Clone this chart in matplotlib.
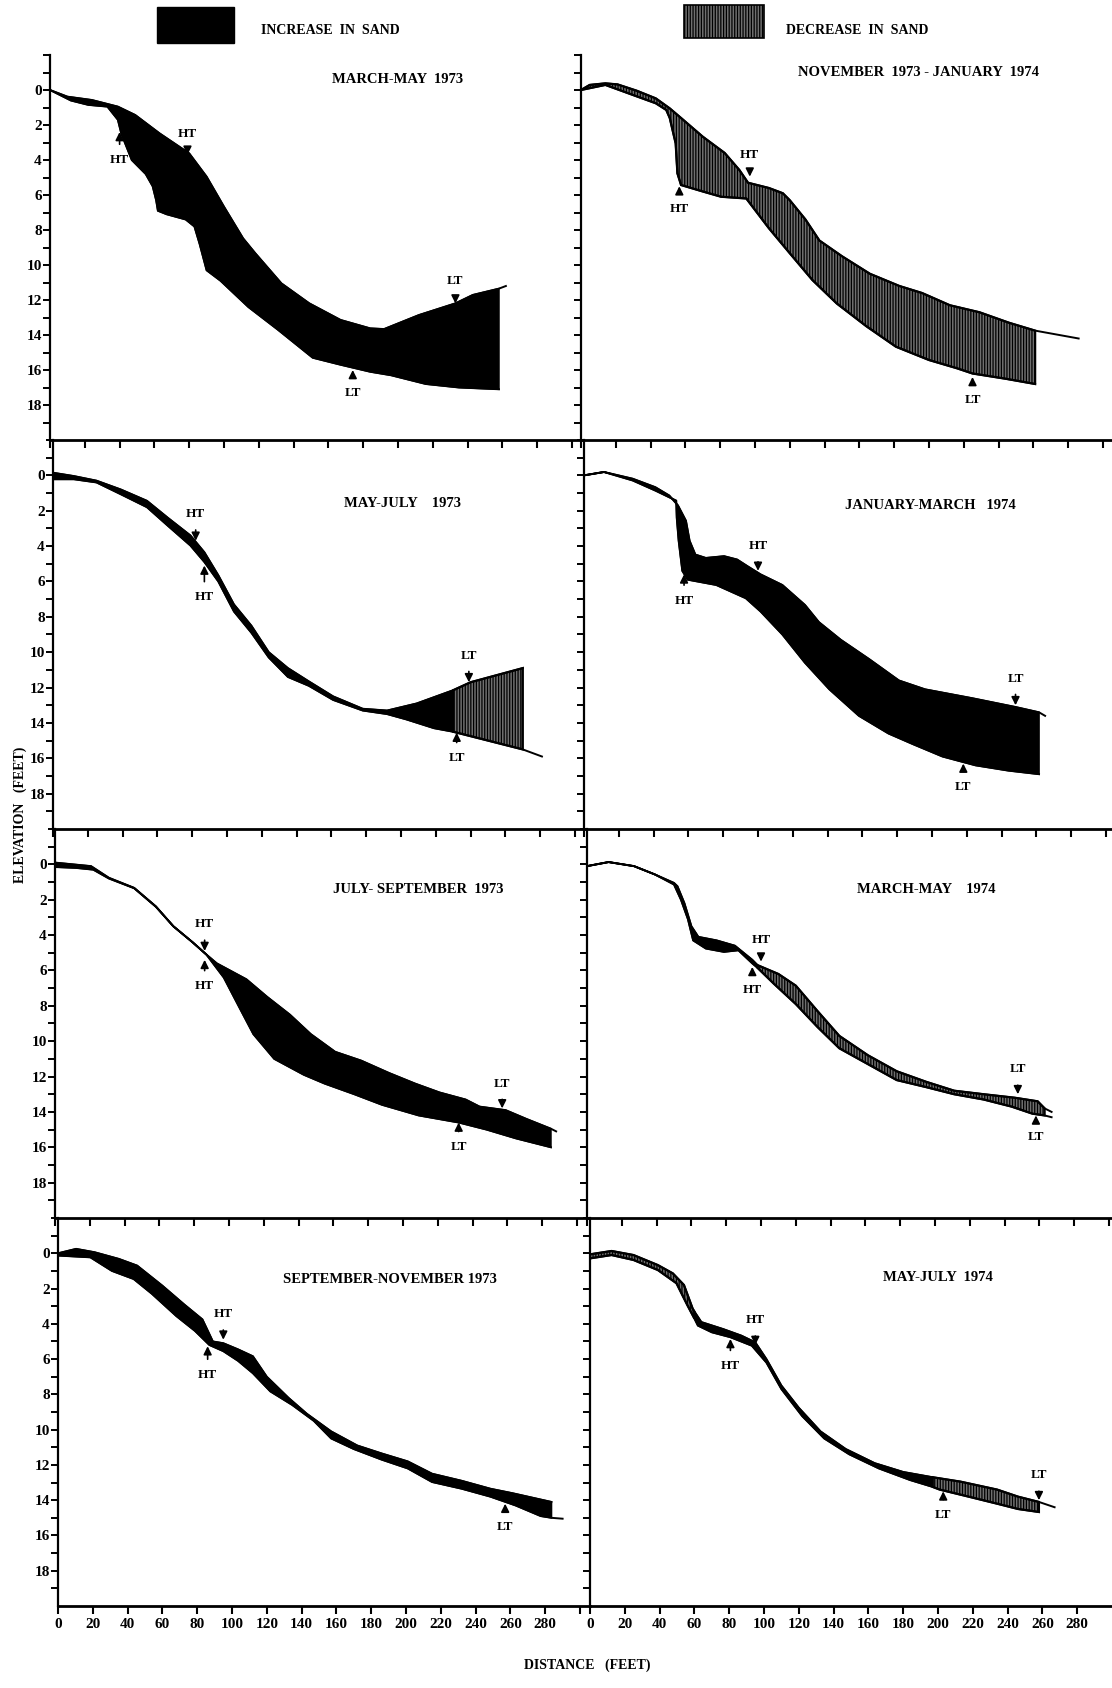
#beach profile changes, 8 panels (two-monthly surveys 1973-1974)
import numpy as np
import matplotlib.pyplot as plt
from matplotlib.patches import Rectangle, Polygon

#=====================Data (distance ft, depth below datum ft)===============
titles = ["MARCH-MAY  1973", "NOVEMBER  1973 - JANUARY  1974",
          "MAY-JULY    1973", "JANUARY-MARCH   1974",
          "JULY- SEPTEMBER  1973", "MARCH-MAY    1974",
          "SEPTEMBER-NOVEMBER 1973", "MAY-JULY  1974"]
title_pos = [(200, -0.6), (194, -1.0), (201, 1.6), (199, 1.7),
             (209, 1.4), (195, 1.4), (191, 1.5), (200, 1.4)]

#panel 1 MARCH-MAY 1973
p1_up_x = [0, 10, 24, 39, 49, 63, 80, 90, 100, 111, 118, 133, 149, 167, 184, 192, 212, 233, 243, 258, 262]
p1_up_y = [0, 0.38, 0.57, 0.95, 1.43, 2.48, 3.62, 4.95, 6.67, 8.48, 9.33, 11.05, 12.19, 13.14, 13.62, 13.66, 12.86, 12.19, 11.71, 11.35, 11.2]
p1_lo_x = [0, 12, 22, 33, 39, 41, 47, 55, 59, 61, 62, 67, 78, 83, 86, 90, 98, 114, 131, 151, 167, 184, 196, 216, 235, 258]
p1_lo_y = [0, 0.6, 0.85, 0.95, 1.7, 2.5, 4.0, 4.8, 5.5, 6.3, 6.9, 7.1, 7.4, 7.8, 8.8, 10.3, 10.9, 12.4, 13.7, 15.3, 15.7, 16.1, 16.3, 16.8, 17.0, 17.1]
p1_spans = [(0, 258, 'inc')]
p1_marks = [('HT', 40, 2.4, 4.0), ('HT', 79, 3.7, 2.5), ('LT', 233, 12.2, 10.9), ('LT', 174, 16.0, 17.3)]

#panel 2 NOVEMBER 1973 - JANUARY 1974
p2_up_x = [0, 5, 14, 21, 32, 43, 51, 57.5, 70, 82.6, 91, 96, 108, 116, 120, 129, 137, 150, 166, 183, 196, 212, 229, 246, 261, 286]
p2_up_y = [0, -0.29, -0.38, -0.32, 0.04, 0.48, 1.05, 1.6, 2.67, 3.6, 4.57, 5.3, 5.6, 5.9, 6.3, 7.4, 8.6, 9.5, 10.5, 11.2, 11.6, 12.3, 12.7, 13.3, 13.75, 14.2]
p2_lo_x = [0, 14, 30, 43, 49, 51, 54.4, 55.4, 57.5, 70, 80.5, 95, 108, 120, 133, 147, 164, 181, 200, 216, 225, 244, 261]
p2_lo_y = [0, -0.29, 0.29, 0.76, 1.14, 1.6, 3.05, 4.76, 5.43, 5.8, 6.1, 6.2, 7.9, 9.33, 10.86, 12.2, 13.5, 14.67, 15.43, 15.9, 16.2, 16.5, 16.8]
p2_spans = [(0, 261, 'dec')]
p2_marks = [('HT', 56.5, 5.5, 6.8), ('HT', 97, 4.95, 3.7), ('LT', 225, 16.4, 17.7)]

#panel 3 MAY-JULY 1973
p3_up_x = [0, 12, 25, 39, 54, 66, 79, 87, 95, 104, 114, 124, 135, 147, 161, 178, 192, 209, 230, 240, 255, 270]
p3_up_y = [-0.15, 0.04, 0.3, 0.8, 1.44, 2.4, 3.4, 4.35, 5.65, 7.3, 8.5, 10.0, 10.9, 11.65, 12.5, 13.2, 13.3, 12.9, 12.15, 11.7, 11.3, 10.9]
p3_lo_x = [0, 12, 25, 39, 54, 66, 79, 87, 95, 104, 114, 124, 135, 147, 161, 178, 192, 203, 219, 230, 246, 270, 281]
p3_lo_y = [0.22, 0.22, 0.4, 1.07, 1.8, 2.85, 3.97, 4.9, 6.0, 7.7, 8.9, 10.3, 11.4, 11.9, 12.7, 13.3, 13.5, 13.8, 14.3, 14.5, 14.9, 15.5, 15.9]
p3_spans = [(0, 230, 'inc'), (230, 270, 'dec')]
p3_marks = [('HT', 82, 3.7, 2.2), ('HT', 87, 5.1, 6.9), ('LT', 239, 11.7, 10.2), ('LT', 232, 14.55, 16.0)]

#panel 4 JANUARY-MARCH 1974
p4_up_x = [0, 11.5, 28, 41, 49, 54, 58.6, 60.7, 64, 70, 80.5, 88, 94, 101.5, 114, 127, 135, 147.6, 164, 181, 196, 223, 248, 261.5, 265]
p4_up_y = [0, -0.19, 0.19, 0.67, 1.14, 1.7, 2.57, 3.7, 4.48, 4.67, 4.57, 4.76, 5.14, 5.6, 6.2, 7.33, 8.3, 9.3, 10.4, 11.6, 12.1, 12.6, 13.1, 13.4, 13.6]
p4_lo_x = [0, 11.5, 28, 41, 53, 53.3, 54.4, 56.5, 59.6, 76, 93, 101.5, 114, 127, 141, 158, 175, 189, 206, 225, 244, 261.5]
p4_lo_y = [0, -0.19, 0.29, 0.86, 1.43, 2.4, 3.7, 5.4, 5.9, 6.2, 6.95, 7.7, 9.0, 10.6, 12.1, 13.6, 14.6, 15.2, 15.9, 16.4, 16.7, 16.9]
p4_spans = [(0, 261.5, 'inc')]
p4_marks = [('HT', 57.5, 5.6, 7.1), ('HT', 100, 5.4, 4.0), ('LT', 248, 13.0, 11.5), ('LT', 218, 16.3, 17.6)]

#panel 5 JULY-SEPTEMBER 1973
p5_up_x = [0, 20.7, 31, 45.5, 58, 68, 79, 87, 93, 110, 122, 135, 147, 161, 176, 192, 207, 221, 236, 244, 259, 271, 285, 288]
p5_up_y = [-0.1, 0.1, 0.76, 1.33, 2.38, 3.5, 4.4, 5.1, 5.6, 6.5, 7.5, 8.5, 9.6, 10.6, 11.1, 11.8, 12.4, 12.9, 13.3, 13.7, 13.9, 14.4, 14.95, 15.1]
p5_lo_x = [0, 12, 22, 31, 45.5, 58, 68, 79, 87, 97, 106, 114, 126, 143, 155, 172, 188, 209, 232, 248, 265, 285]
p5_lo_y = [0.15, 0.2, 0.3, 0.8, 1.35, 2.4, 3.5, 4.4, 5.1, 6.4, 8.1, 9.6, 11.0, 11.9, 12.4, 13.0, 13.6, 14.2, 14.6, 15.0, 15.5, 16.0]
p5_spans = [(0, 285, 'inc')]
p5_marks = [('HT', 86, 4.9, 3.4), ('HT', 86, 5.4, 6.9), ('LT', 257, 13.8, 12.4), ('LT', 232, 14.6, 16.0)]

#panel 6 MARCH-MAY 1974
p6_up_x = [0, 12.4, 27, 39, 50, 52, 56, 60, 64, 74.5, 85, 95, 98, 110, 120, 132.5, 145, 161.5, 178, 195, 211, 228, 246, 259, 263, 267]
p6_up_y = [0.1, -0.13, 0.1, 0.57, 1.05, 1.24, 2.2, 3.5, 4.1, 4.3, 4.6, 5.4, 5.7, 6.2, 6.86, 8.3, 9.7, 10.8, 11.7, 12.3, 12.8, 13.0, 13.2, 13.4, 13.8, 14.0]
p6_lo_x = [0, 12.4, 27, 39, 50, 54, 58, 61, 68.3, 78.7, 87, 95, 98, 107.5, 120, 132.5, 145, 161.5, 178, 195, 211, 228, 244, 256, 263, 267]
p6_lo_y = [0.1, -0.13, 0.1, 0.57, 1.14, 2.0, 3.1, 4.3, 4.76, 4.95, 4.86, 5.6, 5.85, 6.76, 7.9, 9.2, 10.4, 11.3, 12.2, 12.6, 13.0, 13.3, 13.7, 14.1, 14.2, 14.3]
p6_spans = [(0, 98, 'inc'), (98, 263, 'dec')]
p6_marks = [('HT', 100, 5.5, 4.3), ('HT', 95, 5.8, 7.1), ('LT', 247.6, 13.0, 11.6), ('LT', 258, 14.2, 15.4)]

#panel 7 SEPTEMBER-NOVEMBER 1973
p7_up_x = [0, 10.4, 21, 35, 45.5, 60, 72.5, 83, 89, 95, 103.5, 112, 120, 132.5, 143, 157, 172, 186, 201, 215, 232, 248.5, 261, 283.6]
p7_up_y = [0, -0.25, -0.06, 0.32, 0.7, 1.84, 2.9, 3.75, 5.0, 5.1, 5.45, 5.84, 7.0, 8.2, 9.1, 10.1, 10.9, 11.35, 11.8, 12.5, 12.9, 13.35, 13.6, 14.1]
p7_lo_x = [0, 18.6, 31, 43.5, 54, 68, 78.7, 87, 95, 103.5, 112, 122, 134.6, 147, 157, 170, 186, 201, 215, 232, 248.5, 263, 277.4, 283.6, 290]
p7_lo_y = [0.13, 0.23, 1.0, 1.46, 2.3, 3.56, 4.4, 5.2, 5.55, 6.1, 6.8, 7.83, 8.6, 9.5, 10.5, 11.1, 11.7, 12.2, 12.97, 13.35, 13.8, 14.3, 14.9, 15.0, 15.05]
p7_spans = [(0, 283.6, 'inc')]
p7_marks = [('HT', 95, 4.9, 3.46), ('HT', 86, 5.27, 6.9), ('LT', 257, 14.2, 15.5)]

#panel 8 MAY-JULY 1974
p8_up_x = [0, 12.4, 25, 39, 47.6, 54, 59, 60, 64, 76.6, 87, 95, 101.4, 110, 120, 132.5, 147, 163.6, 180, 197, 213, 234, 246, 258, 267]
p8_up_y = [0.06, -0.13, 0.1, 0.67, 1.14, 1.8, 3.14, 3.3, 3.9, 4.3, 4.67, 5.05, 6.0, 7.5, 8.76, 10.1, 11.1, 11.9, 12.4, 12.7, 12.95, 13.4, 13.8, 14.1, 14.4]
p8_lo_x = [0, 12.4, 25, 39, 49.7, 56, 60, 62, 70, 80.7, 93, 101.4, 110, 122, 134.6, 149, 166, 184, 197, 201, 217.6, 234, 246, 258]
p8_lo_y = [0.29, 0.1, 0.38, 0.95, 1.7, 2.95, 3.7, 4.1, 4.48, 4.76, 5.24, 6.2, 7.7, 9.24, 10.5, 11.4, 12.2, 12.86, 13.25, 13.4, 13.8, 14.2, 14.5, 14.67]
p8_spans = [(0, 60, 'dec'), (60, 197, 'inc'), (197, 258, 'dec')]
p8_marks = [('HT', 80.7, 4.86, 6.4), ('HT', 95, 5.2, 3.8), ('LT', 203, 13.5, 14.86), ('LT', 258, 14.0, 12.6)]

panels = [
    (p1_up_x, p1_up_y, p1_lo_x, p1_lo_y, p1_spans, p1_marks),
    (p2_up_x, p2_up_y, p2_lo_x, p2_lo_y, p2_spans, p2_marks),
    (p3_up_x, p3_up_y, p3_lo_x, p3_lo_y, p3_spans, p3_marks),
    (p4_up_x, p4_up_y, p4_lo_x, p4_lo_y, p4_spans, p4_marks),
    (p5_up_x, p5_up_y, p5_lo_x, p5_lo_y, p5_spans, p5_marks),
    (p6_up_x, p6_up_y, p6_lo_x, p6_lo_y, p6_spans, p6_marks),
    (p7_up_x, p7_up_y, p7_lo_x, p7_lo_y, p7_spans, p7_marks),
    (p8_up_x, p8_up_y, p8_lo_x, p8_lo_y, p8_spans, p8_marks),
]

#=====================Layout (pixels of the 1112x1688 page)===============
W, H = 1112, 1688
row_top = [55, 440, 829, 1218]
row_bot = [440, 829, 1218, 1606]
left_x = [50, 53, 55, 58]     #scan is slightly slanted
right_x = [581, 584, 587, 590]
px_per_ft = 1.74

plt.rcParams['font.family'] = ['Liberation Serif', 'DejaVu Serif']
plt.rcParams['font.weight'] = 'bold'
plt.rcParams['hatch.linewidth'] = 0.9

dec_face = '#6f6f6f'
hatch_pat = '||||||'

fig = plt.figure(figsize=(W / 100, H / 100), dpi=100)

def add_ax(x0, x1, r):
    top, bot = row_top[r], row_bot[r]
    return fig.add_axes([x0 / W, 1 - bot / H, (x1 - x0) / W, (bot - top) / H])

def sel(xs, ys, a, b):
    xs = np.asarray(xs, float); ys = np.asarray(ys, float)
    m = (xs >= a - 1e-6) & (xs <= b + 1e-6)
    return xs[m], ys[m]

for k, (ux, uy, lx, ly, spans, marks) in enumerate(panels):
    r, c = k // 2, k % 2
    if c == 0:
        ax = add_ax(left_x[r], right_x[r], r)
        xmax = (right_x[r] - left_x[r]) / px_per_ft
    else:
        ax = add_ax(right_x[r], W, r)
        xmax = (W - right_x[r]) / px_per_ft
    ax.set_xlim(0, xmax)
    ax.set_ylim(20, -2)
    ax.patch.set_alpha(0)

    #band between the two surveys
    for a, b, kind in spans:
        x1_, y1_ = sel(ux, uy, a, b)
        x2_, y2_ = sel(lx, ly, a, b)
        pts = np.column_stack([np.r_[x1_, x2_[::-1]], np.r_[y1_, y2_[::-1]]])
        if kind == 'inc':
            poly = Polygon(pts, closed=True, facecolor='black', edgecolor='black', lw=1.2)
        else:
            poly = Polygon(pts, closed=True, facecolor=dec_face, edgecolor='black', hatch=hatch_pat, lw=1.6)
        ax.add_patch(poly)
    ax.plot(ux, uy, color='black', lw=1.4)
    ax.plot(lx, ly, color='black', lw=1.4)

    for lab, mx, tip, ty in marks:
        ax.annotate(lab, xy=(mx, tip), xytext=(mx, ty), ha='center', va='center',
                    fontsize=9.5, fontweight='bold',
                    arrowprops=dict(arrowstyle='-|>', color='black', lw=1.2,
                                    mutation_scale=12, shrinkA=5, shrinkB=0))

    tx, tyy = title_pos[k]
    ax.text(tx, tyy, titles[k], ha='center', va='center', fontsize=10.5, fontweight='bold')

    for s in ['top', 'right']:
        ax.spines[s].set_visible(False)
    ax.spines['left'].set_linewidth(1.6)
    ax.spines['bottom'].set_linewidth(2.0)

    xt = np.arange(0, xmax, 20)
    ax.set_xticks(xt)
    ax.set_xticklabels([str(int(v)) if v <= 280 else '' for v in xt])
    ax.tick_params(axis='x', direction='out', length=6, width=1.5, labelsize=11, pad=3)
    if r < 3:
        ax.tick_params(axis='x', labelbottom=False)
    ax.set_yticks(np.arange(0, 19, 2))
    ax.set_yticks([-2, -1] + list(range(1, 20, 2)), minor=True)
    ax.tick_params(axis='y', which='both', direction='out', length=5, width=1.4, labelsize=11, pad=1)
    if c == 1:
        ax.tick_params(axis='y', labelleft=False)

#legend boxes on top of the page
fig.patches.append(Rectangle((157 / W, 1 - 43 / H), 77 / W, 36 / H, transform=fig.transFigure,
                             facecolor='black', edgecolor='black', figure=fig))
fig.text(261 / W, 1 - 31 / H, 'INCREASE  IN  SAND', fontsize=10, fontweight='bold', va='center')
fig.patches.append(Rectangle((684 / W, 1 - 38 / H), 80 / W, 33 / H, transform=fig.transFigure,
                             facecolor=dec_face, edgecolor='black', hatch=hatch_pat, lw=1.2, figure=fig))
fig.text(786 / W, 1 - 31 / H, 'DECREASE  IN  SAND', fontsize=10, fontweight='bold', va='center')

fig.text(20 / W, 1 - 815 / H, 'ELEVATION   (FEET)', rotation=90, fontsize=10, fontweight='bold',
         ha='center', va='center')
fig.text(587 / W, 1 - 1665 / H, 'DISTANCE   (FEET)', fontsize=10, fontweight='bold',
         ha='center', va='center')

fig.savefig('out.png', dpi=100)
